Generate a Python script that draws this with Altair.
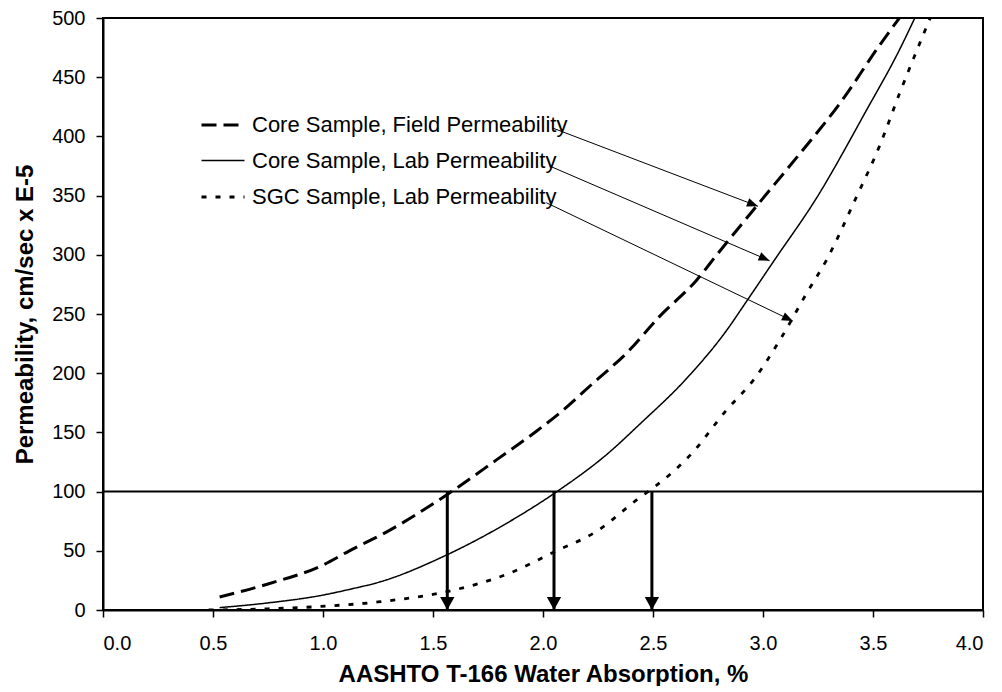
import altair as alt
import pandas as pd
import math

# ---------------- data ----------------
series_names = [
    "Core Sample, Field Permeability",
    "Core Sample, Lab Permeability",
    "SGC Sample, Lab Permeability",
]

field_x = [0.53, 0.75, 1.0, 1.12, 1.29, 1.56, 1.79, 1.97, 2.08, 2.23, 2.38, 2.53, 2.70, 2.79, 2.97, 3.17, 3.35, 3.53, 3.62]
field_y = [11, 22, 38, 50, 66, 97, 127, 151, 167, 192, 217, 248, 279, 300, 341, 386, 428, 477, 500]

corelab_x = [0.53, 0.75, 1.0, 1.12, 1.26, 1.56, 1.86, 2.06, 2.3, 2.44, 2.65, 2.83, 2.93, 3.05, 3.24, 3.47, 3.62, 3.69]
corelab_y = [2, 6, 12.6, 17.4, 23.8, 46.3, 76, 99.6, 133, 157, 195, 235, 262, 295, 347, 422, 473, 500]

sgc_x = [0.48, 0.75, 0.99, 1.26, 1.56, 1.86, 2.05, 2.24, 2.44, 2.5, 2.68, 2.83, 2.96, 3.08, 3.2, 3.29, 3.42, 3.53, 3.62, 3.70, 3.76]
sgc_y = [0, 1, 3, 7, 15.4, 32, 49, 66, 95, 103, 133, 168, 195, 229, 268, 296, 347, 392, 436, 473, 500]

threshold = 100
threshold_x = [1.565, 2.05, 2.495]

# leader arrows from legend labels to curves
leader_x1 = [2.045, 2.03, 2.015]
leader_y1 = [407, 375, 344]
leader_x2 = [2.977, 3.03, 3.136]
leader_y2 = [341, 295, 244]

x_ticks = [0.0, 0.5, 1.0, 1.5, 2.0, 2.5, 3.0, 3.5, 4.0]
y_ticks = [0, 50, 100, 150, 200, 250, 300, 350, 400, 450, 500]

# ---------------- tables ----------------
curves = pd.concat([
    pd.DataFrame({"x": field_x, "y": field_y, "series": series_names[0]}),
    pd.DataFrame({"x": corelab_x, "y": corelab_y, "series": series_names[1]}),
    pd.DataFrame({"x": sgc_x, "y": sgc_y, "series": series_names[2]}),
], ignore_index=True)

W, H = 880, 592
px_x = W / 4.0
px_y = H / 500.0

leaders = pd.DataFrame({"x": leader_x1, "y": leader_y1, "x2": leader_x2, "y2": leader_y2})
leaders["ang"] = [
    math.degrees(math.atan2((a - b) * px_y, (d - c) * px_x))
    for a, b, c, d in zip(leader_y1, leader_y2, leader_x1, leader_x2)
]

drops = pd.DataFrame({"x": threshold_x, "y": [threshold] * 3, "y2": [0] * 3})

FONT = "Liberation Sans"
xs = alt.Scale(domain=[0, 4], nice=False, zero=False)
ys = alt.Scale(domain=[0, 500], nice=False)

legend_kw = dict(
    orient="none", legendX=97, legendY=84, title=None,
    symbolType="stroke", symbolSize=1849, symbolStrokeColor="black",
    labelFont=FONT, labelFontSize=22, labelColor="black", labelLimit=0,
    labelOffset=6, rowPadding=2, padding=0,
)

lines = alt.Chart(curves).mark_line(color="black", clip=True, interpolate="monotone").encode(
    x=alt.X("x:Q", scale=xs, axis=alt.Axis(
        values=x_ticks, format=".1f", title="AASHTO T-166 Water Absorption, %",
        titlePadding=9, labelPadding=16, titleFontSize=24)),
    y=alt.Y("y:Q", scale=ys, axis=alt.Axis(
        values=y_ticks, title="Permeability, cm/sec x E-5",
        titlePadding=14, labelPadding=11, titleFontSize=24)),
    strokeDash=alt.StrokeDash("series:N", scale=alt.Scale(
        domain=series_names, range=[[15, 7], [1, 0], [5, 9]]), legend=alt.Legend(**legend_kw)),
    strokeWidth=alt.StrokeWidth("series:N", scale=alt.Scale(
        type="ordinal", domain=series_names, range=[3, 1.5, 2.8]), legend=alt.Legend(**legend_kw)),
    order="x:Q",
)

hline = alt.Chart(pd.DataFrame({"y": [threshold]})).mark_rule(
    color="black", strokeWidth=2).encode(y=alt.Y("y:Q", scale=ys))

drop_lines = alt.Chart(drops).mark_rule(color="black", strokeWidth=3).encode(
    x=alt.X("x:Q", scale=xs), y=alt.Y("y:Q", scale=ys), y2="y2:Q")

ARROW = "M0,0 L-1,-0.55 L-1,0.55 Z"
drop_heads = alt.Chart(drops).mark_point(
    shape=ARROW, filled=True, color="black", size=676, opacity=1, angle=90
).encode(x=alt.X("x:Q", scale=xs), y=alt.Y("y2:Q", scale=ys))

leader_lines = alt.Chart(leaders).mark_rule(color="black", strokeWidth=1).encode(
    x=alt.X("x:Q", scale=xs), y=alt.Y("y:Q", scale=ys), x2="x2:Q", y2="y2:Q")

THIN = "M0,0 L-1,-0.4 L-1,0.4 Z"
leader_heads = alt.Chart(leaders).mark_point(
    shape=THIN, filled=True, color="black", size=484, opacity=1
).encode(x=alt.X("x2:Q", scale=xs), y=alt.Y("y2:Q", scale=ys),
         angle=alt.Angle("ang:Q", scale=None))

chart = alt.layer(
    hline, drop_lines, drop_heads, lines, leader_lines, leader_heads
).properties(
    width=W, height=H,
    background="white",
    autosize=alt.AutoSizeParams(type="none"),
    padding={"left": 95, "top": 10, "right": 10, "bottom": 76},
).configure_view(
    stroke="black", strokeWidth=2
).configure_axis(
    grid=False, domainColor="black", domainWidth=2, tickColor="black",
    tickWidth=1.5, tickSize=7, labelFont=FONT, labelFontSize=20,
    labelColor="black", titleFont=FONT, titleFontWeight="bold",
    titleColor="black",
)

chart.save("out.html", embed_options={"renderer": "svg", "actions": False})
